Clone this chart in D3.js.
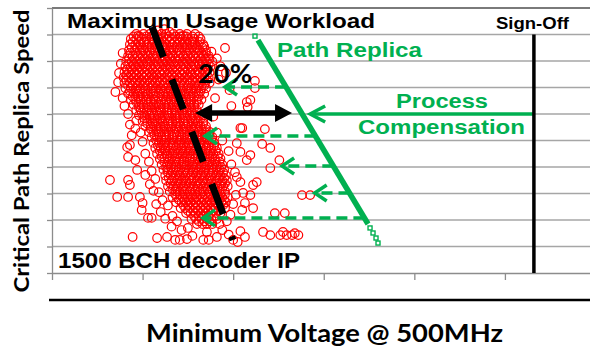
<!DOCTYPE html>
<html>
<head>
<meta charset="utf-8">
<script src="https://cdn.jsdelivr.net/npm/d3@7"></script>
<style>
  html, body { margin: 0; padding: 0; background: #ffffff; }
  svg { display: block; }
</style>
</head>
<body>
<svg id="chart" width="590" height="347"></svg>
<script>
// ---- axis ticks (no labels, just marks) ----
const xTicks = [0, 1, 2, 3, 4, 5, 6];
const yTicks = [0, 1, 2, 3, 4, 5, 6, 7, 8, 9, 10];

// ---- measured critical-path replica speed vs. minimum voltage (dense core, by row) ----
const cloudRows = [
  [9.02, [0.93,1.01,1.08,1.13,1.21,1.26,1.34,1.41,1.49,1.58]],
  [8.83, [0.87,0.93,0.99,1.04,1.10,1.17,1.21,1.27,1.32,1.39,1.44,1.50,1.57,1.64]],
  [8.62, [0.86,0.92,0.98,1.05,1.10,1.16,1.22,1.26,1.33,1.38,1.44,1.49,1.55,1.61,1.67]],
  [8.41, [0.85,0.91,0.97,1.01,1.08,1.13,1.19,1.25,1.30,1.34,1.41,1.47,1.52,1.58,1.63,1.70]],
  [8.19, [0.84,0.89,0.95,1.00,1.06,1.12,1.16,1.23,1.28,1.33,1.40,1.45,1.50,1.56,1.62,1.67,1.73]],
  [7.98, [0.82,0.88,0.94,0.99,1.05,1.09,1.16,1.22,1.27,1.32,1.38,1.44,1.49,1.54,1.61,1.66,1.71,1.77]],
  [7.79, [0.81,0.87,0.92,0.97,1.04,1.09,1.14,1.19,1.26,1.31,1.36,1.42,1.48,1.54,1.58,1.65,1.70,1.75]],
  [7.57, [0.80,0.85,0.91,0.96,1.02,1.08,1.14,1.19,1.24,1.29,1.36,1.41,1.46,1.53,1.58,1.63,1.69,1.74]],
  [7.38, [0.79,0.84,0.90,0.96,1.01,1.07,1.12,1.18,1.25,1.29,1.35,1.40,1.47,1.51,1.57,1.64,1.68,1.73]],
  [7.18, [0.80,0.86,0.92,0.97,1.02,1.08,1.14,1.19,1.24,1.31,1.36,1.41,1.46,1.52,1.58,1.63,1.69,1.74]],
  [6.97, [0.81,0.87,0.93,0.98,1.03,1.10,1.15,1.20,1.26,1.31,1.37,1.42,1.49,1.54,1.59,1.65,1.70]],
  [6.77, [0.84,0.90,0.95,1.00,1.06,1.12,1.18,1.23,1.28,1.34,1.39,1.46,1.51,1.56,1.62,1.68]],
  [6.55, [0.87,0.92,0.98,1.04,1.09,1.14,1.21,1.26,1.31,1.37,1.43,1.48,1.53,1.60,1.65]],
  [6.36, [0.90,0.96,1.01,1.06,1.12,1.18,1.24,1.29,1.34,1.40,1.45,1.51,1.57,1.62]],
  [6.14, [0.93,0.98,1.05,1.10,1.15,1.20,1.27,1.32,1.37,1.43,1.49,1.54,1.60]],
  [5.95, [0.96,1.02,1.08,1.13,1.18,1.24,1.29,1.36,1.41,1.46,1.52,1.57,1.63,1.68]],
  [5.73, [1.00,1.05,1.11,1.16,1.22,1.28,1.33,1.38,1.45,1.50,1.55,1.61,1.67]],
  [5.54, [1.03,1.09,1.15,1.20,1.25,1.32,1.37,1.42,1.48,1.54,1.59,1.64,1.70]],
  [5.32, [1.07,1.12,1.18,1.24,1.29,1.35,1.40,1.46,1.52,1.57,1.62,1.69,1.74]],
  [5.13, [1.10,1.16,1.21,1.26,1.33,1.38,1.43,1.49,1.55,1.60,1.66,1.71,1.77]],
  [4.91, [1.12,1.18,1.24,1.29,1.34,1.40,1.46,1.51,1.56,1.63,1.68,1.73,1.79]],
  [4.72, [1.14,1.20,1.25,1.31,1.37,1.43,1.48,1.53,1.59,1.64,1.70,1.76,1.82]],
  [4.50, [1.16,1.22,1.27,1.33,1.39,1.44,1.50,1.56,1.61,1.66,1.72,1.78,1.84]],
  [4.31, [1.19,1.24,1.30,1.36,1.41,1.46,1.52,1.58,1.64,1.69,1.74,1.80,1.86]],
  [4.09, [1.21,1.27,1.32,1.37,1.43,1.49,1.55,1.60,1.65,1.71,1.77,1.82,1.88]],
  [3.90, [1.23,1.28,1.34,1.40,1.46,1.51,1.56,1.62,1.68,1.73,1.78,1.85,1.90]],
  [3.68, [1.25,1.31,1.36,1.41,1.47,1.53,1.59,1.64,1.69,1.75,1.81,1.86,1.92]],
  [3.49, [1.26,1.32,1.38,1.43,1.48,1.54,1.60,1.66,1.71,1.76,1.82,1.88,1.93]],
  [3.27, [1.28,1.34,1.39,1.45,1.51,1.56,1.61,1.67,1.73,1.78,1.83,1.89,1.94]],
  [3.08, [1.30,1.36,1.41,1.46,1.52,1.58,1.63,1.68,1.74,1.80,1.85,1.91]],
  [2.86, [1.33,1.38,1.44,1.50,1.55,1.60,1.66,1.72,1.78,1.83,1.88,1.94]],
  [2.67, [1.37,1.43,1.48,1.53,1.59,1.65,1.71,1.76,1.81,1.87,1.92]],
  [2.45, [1.42,1.47,1.52,1.58,1.64,1.69,1.75,1.80,1.86,1.91]],
  [2.26, [1.48,1.53,1.58,1.64,1.70,1.75,1.81,1.86]],
  [2.04, [1.54,1.59,1.65,1.71,1.76,1.82]],
  [1.85, [1.60,1.66,1.71,1.77]]
];

// ---- second pass of the core, between the rows above ----
const cloudRowsMid = [
  [8.93, [0.90,0.97,1.04,1.10,1.16,1.23,1.29,1.36,1.42,1.48,1.55,1.62]],
  [8.72, [0.89,0.96,1.02,1.07,1.13,1.19,1.24,1.30,1.35,1.41,1.46,1.52,1.57,1.63]],
  [8.51, [0.88,0.94,0.99,1.05,1.10,1.16,1.22,1.27,1.32,1.38,1.44,1.49,1.55,1.60,1.66]],
  [8.30, [0.86,0.92,0.98,1.03,1.09,1.14,1.20,1.26,1.31,1.37,1.42,1.48,1.53,1.59,1.65,1.70]],
  [8.09, [0.85,0.91,0.97,1.02,1.08,1.13,1.19,1.25,1.30,1.36,1.41,1.47,1.52,1.58,1.64,1.69,1.74]],
  [7.88, [0.84,0.90,0.95,1.01,1.06,1.12,1.17,1.23,1.29,1.34,1.39,1.45,1.51,1.56,1.62,1.67,1.73]],
  [7.68, [0.83,0.88,0.94,0.99,1.05,1.11,1.16,1.22,1.27,1.33,1.38,1.44,1.50,1.55,1.61,1.66,1.72]],
  [7.47, [0.82,0.87,0.93,0.99,1.04,1.10,1.15,1.21,1.27,1.32,1.38,1.43,1.49,1.54,1.60,1.66,1.71]],
  [7.28, [0.82,0.88,0.94,0.99,1.05,1.11,1.16,1.22,1.27,1.33,1.38,1.44,1.50,1.55,1.61,1.66,1.71]],
  [7.07, [0.84,0.89,0.95,1.01,1.06,1.12,1.17,1.23,1.29,1.34,1.40,1.45,1.51,1.57,1.62,1.68]],
  [6.87, [0.86,0.92,0.97,1.03,1.09,1.14,1.20,1.25,1.31,1.36,1.42,1.48,1.53,1.59,1.64]],
  [6.66, [0.89,0.95,1.01,1.06,1.12,1.17,1.23,1.28,1.34,1.40,1.45,1.51,1.57,1.62]],
  [6.46, [0.93,0.98,1.04,1.09,1.15,1.20,1.26,1.32,1.37,1.43,1.48,1.54,1.60]],
  [6.25, [0.96,1.01,1.07,1.13,1.18,1.24,1.29,1.35,1.41,1.46,1.52,1.57]],
  [6.05, [0.99,1.04,1.10,1.16,1.21,1.27,1.32,1.38,1.44,1.49,1.55,1.61]],
  [5.84, [1.02,1.08,1.13,1.19,1.25,1.30,1.36,1.41,1.47,1.53,1.58,1.64]],
  [5.64, [1.05,1.11,1.17,1.22,1.28,1.33,1.39,1.45,1.50,1.56,1.61,1.67]],
  [5.43, [1.09,1.15,1.20,1.26,1.31,1.37,1.43,1.48,1.54,1.59,1.65,1.70]],
  [5.22, [1.13,1.18,1.24,1.29,1.35,1.41,1.46,1.52,1.57,1.63,1.69,1.74]],
  [5.02, [1.15,1.21,1.26,1.32,1.38,1.43,1.49,1.54,1.60,1.65,1.71,1.76]],
  [4.81, [1.17,1.23,1.28,1.34,1.40,1.45,1.51,1.56,1.62,1.67,1.73,1.79]],
  [4.61, [1.19,1.25,1.30,1.36,1.42,1.47,1.53,1.58,1.64,1.70,1.75,1.81]],
  [4.40, [1.21,1.27,1.33,1.38,1.44,1.49,1.55,1.61,1.66,1.72,1.77,1.83]],
  [4.20, [1.24,1.29,1.35,1.40,1.46,1.52,1.57,1.63,1.68,1.74,1.80,1.85]],
  [3.99, [1.26,1.31,1.37,1.43,1.48,1.54,1.59,1.65,1.70,1.76,1.82,1.87]],
  [3.79, [1.28,1.33,1.39,1.45,1.50,1.56,1.61,1.67,1.73,1.78,1.84,1.89]],
  [3.58, [1.29,1.35,1.41,1.46,1.52,1.57,1.63,1.68,1.74,1.80,1.85,1.90]],
  [3.38, [1.31,1.37,1.42,1.48,1.53,1.59,1.64,1.70,1.76,1.81,1.87,1.91]],
  [3.17, [1.33,1.38,1.44,1.49,1.55,1.61,1.66,1.72,1.77,1.83,1.88]],
  [2.97, [1.36,1.41,1.47,1.53,1.58,1.64,1.69,1.75,1.80,1.86,1.91]],
  [2.76, [1.40,1.46,1.51,1.57,1.62,1.68,1.74,1.79,1.85,1.90]],
  [2.56, [1.45,1.50,1.56,1.61,1.67,1.72,1.78,1.83,1.89]],
  [2.35, [1.50,1.56,1.61,1.67,1.72,1.78,1.84]],
  [2.15, [1.57,1.62,1.68,1.73,1.79]],
  [1.95, [1.62,1.68,1.74]]
];

// ---- scattered dies around the dense core [voltage, speed] ----
const cloudOutliers = [
  [1.17,9.15],[1.24,9.20],[1.30,9.10],[0.95,8.95],[1.45,8.95],[1.55,8.75],[1.68,8.55],[1.76,8.35],
  [1.82,8.10],[1.91,8.49],[0.78,8.30],[0.76,7.90],[0.74,7.55],[0.73,7.20],[0.70,6.83],[0.78,6.60],
  [0.80,6.30],[0.84,6.00],[0.86,5.60],[0.88,5.20],[0.92,5.45],[0.83,4.75],[0.84,4.38],[0.92,4.26],
  [0.86,4.83],[0.94,3.89],[1.03,3.70],[0.64,3.51],[0.84,3.51],[0.86,3.32],[0.72,2.87],[0.84,2.87],
  [0.97,2.87],[1.00,2.64],[0.99,2.38],[1.06,2.08],[1.10,2.08],[1.12,3.10],[1.08,3.35],[1.15,2.60],
  [1.20,2.30],[1.25,2.05],[1.33,2.15],[1.38,1.95],[0.89,1.36],[1.16,1.32],[1.27,1.36],[1.36,1.25],
  [1.41,1.25],[1.49,1.28],[1.55,1.40],[1.67,1.25],[1.73,1.25],[1.71,1.55],[1.82,1.36],[1.88,1.62],
  [1.95,1.45],[2.00,1.25],[2.05,1.17],[2.08,1.58],[2.13,1.36],[2.33,1.55],[2.41,1.43],[2.52,1.43],
  [2.55,1.55],[2.59,1.43],[2.65,1.43],[2.68,1.50],[2.72,1.43],[2.76,2.94],[2.85,2.94],[2.57,2.26],
  [2.46,2.26],[2.22,2.45],[2.13,2.64],[2.10,2.38],[2.11,3.02],[2.08,3.43],[2.22,3.32],[2.26,3.43],
  [2.19,2.94],[2.04,3.62],[2.15,4.26],[2.08,4.57],[2.32,4.87],[2.41,4.72],[2.51,4.26],[2.41,3.96],
  [2.10,5.47],[2.35,5.43],[2.19,6.53],[2.16,6.26],[2.24,6.98],[2.24,7.25],[1.98,6.30],[1.96,6.90],
  [1.92,7.55],[1.86,7.80],[1.84,7.30],[1.80,6.60],[1.78,5.90],[1.82,5.30],[1.88,5.00],[1.95,4.60],
  [1.98,4.10],[2.02,3.80],[2.03,2.95],[2.00,2.60],[1.97,2.20],[1.93,1.95],[1.85,1.85],[1.50,1.70],
  [1.43,1.62],[1.32,1.75],[1.28,2.55],[1.22,2.75],[1.18,3.05],[1.14,3.55],[1.10,3.85],[1.07,4.20],
  [1.03,4.50],[1.00,4.95],[0.98,5.30],[0.93,5.75],[2.04,4.90],[2.15,6.45],[2.19,4.45],[2.08,5.47]
];

// ---- path replica trend and its markers ----
const replicaLine = [[2.274, 8.79], [3.489, 1.85]];
const replicaMarkers = [[2.241, 8.94], [3.511, 1.70], [3.544, 1.51], [3.577, 1.32], [3.599, 1.13]];

// ---- maximum-usage workload boundary ----
const workloadLine = [[1.104, 9.28], [1.998, 1.245]];

// ---- compensation arrows: speed level and arrow tip voltage ----
const compLevels = [7.02, 5.17, 4.04, 3.02, 2.08];
const compTips = [1.91, 1.69, 2.54, 2.90, 1.667];

// ---- process compensation arrow (from sign-off to replica) ----
const processLevel = 6.0;
const processTip = 2.85;

// ---- 20% margin double arrow ----
const marginLevel = 6.04;
const marginEnds = [1.58, 2.65];

// ---- sign-off voltage ----
const signOff = 5.32;
const signOffTop = 9.0;

const GREEN = "#00b050";
const RED = "#ff0000";

const svg = d3.select("#chart");
const W = 590;

const x = d3.scaleLinear().domain([0, 6]).range([52, 595.5]);
const y = d3.scaleLinear().domain([0, 10]).range([273, 8]);

// horizontal gridlines
svg.append("g").selectAll("line")
  .data(yTicks.filter(d => d > 0))
  .join("line")
  .attr("x1", x(0)).attr("x2", W)
  .attr("y1", d => y(d)).attr("y2", d => y(d))
  .attr("stroke", d => d === 10 ? "#7a7a7a" : "#a6a6a6")
  .attr("stroke-width", d => d === 10 ? 2 : 1.3);

// y axis with short outside ticks
const gy = svg.append("g")
  .attr("transform", `translate(${x(0)},0)`)
  .call(d3.axisLeft(y).tickValues(yTicks).tickSize(5).tickSizeOuter(0).tickFormat(""));
gy.select(".domain").attr("stroke", "#8c8c8c").attr("stroke-width", 1.3);
gy.selectAll(".tick line").attr("stroke", "#8c8c8c").attr("stroke-width", 1.3);

// x axis with downward ticks
const gx = svg.append("g")
  .attr("transform", `translate(0,${y(0)})`)
  .call(d3.axisBottom(x).tickValues(xTicks).tickSize(7).tickSizeOuter(0).tickFormat(""));
gx.select(".domain").attr("stroke", "#8c8c8c").attr("stroke-width", 1.3);
gx.selectAll(".tick line").attr("stroke", "#8c8c8c").attr("stroke-width", 1.3);

// scatter of measured dies
const rowPoints = rows => rows.flatMap(([s, xs]) => xs.map(v => [v, s]));
const cloudPoints = rowPoints(cloudRows).concat(rowPoints(cloudRowsMid), cloudOutliers);
svg.append("g").selectAll("circle")
  .data(cloudPoints)
  .join("circle")
  .attr("cx", d => x(d[0]))
  .attr("cy", d => y(d[1]))
  .attr("r", 4.3)
  .attr("fill", "none")
  .attr("stroke", RED)
  .attr("stroke-width", 1.2);

const line = d3.line().x(d => x(d[0])).y(d => y(d[1]));

// workload boundary (thick black dashes)
svg.append("path")
  .attr("d", line(workloadLine))
  .attr("fill", "none")
  .attr("stroke", "#000")
  .attr("stroke-width", 7)
  .attr("stroke-dasharray", "32,24");

// path replica trend
svg.append("path")
  .attr("d", line(replicaLine))
  .attr("fill", "none")
  .attr("stroke", GREEN)
  .attr("stroke-width", 5.5);
svg.append("g").selectAll("rect")
  .data(replicaMarkers)
  .join("rect")
  .attr("x", d => x(d[0]) - 2)
  .attr("y", d => y(d[1]) - 2)
  .attr("width", 4).attr("height", 4)
  .attr("fill", "none")
  .attr("stroke", GREEN)
  .attr("stroke-width", 1.4);

function replicaAt(s) {
  const [[x1, y1], [x2, y2]] = replicaLine;
  return x1 + (s - y1) * (x2 - x1) / (y2 - y1);
}

function chevron(px, py, dx, dy) {
  return `M${px + dx},${py - dy}L${px},${py}L${px + dx},${py + dy}`;
}

// dashed compensation arrows
const comp = svg.append("g");
compLevels.forEach((s, i) => {
  const py = y(s);
  comp.append("line")
    .attr("x1", x(replicaAt(s))).attr("x2", x(compTips[i]) + 2)
    .attr("y1", py).attr("y2", py)
    .attr("stroke", GREEN).attr("stroke-width", 3.5)
    .attr("stroke-dasharray", "11,6");
  comp.append("path")
    .attr("d", chevron(x(compTips[i]), py, 12, 8))
    .attr("fill", "none").attr("stroke", GREEN).attr("stroke-width", 3.5);
});

// process compensation arrow
const ppy = y(processLevel);
svg.append("line")
  .attr("x1", x(signOff)).attr("x2", x(processTip) + 2)
  .attr("y1", ppy).attr("y2", ppy)
  .attr("stroke", GREEN).attr("stroke-width", 3.5);
svg.append("path")
  .attr("d", chevron(x(processTip), ppy, 15, 8))
  .attr("fill", "none").attr("stroke", GREEN).attr("stroke-width", 3.5);

// 20% margin double arrow
const my = y(marginLevel);
const ml = x(marginEnds[0]), mr = x(marginEnds[1]);
svg.append("line")
  .attr("x1", ml + 14).attr("x2", mr - 14)
  .attr("y1", my).attr("y2", my)
  .attr("stroke", "#000").attr("stroke-width", 5.5);
svg.append("path")
  .attr("d", `M${ml},${my}L${ml + 17},${my - 9}L${ml + 17},${my + 9}Z M${mr},${my}L${mr - 17},${my - 9}L${mr - 17},${my + 9}Z`)
  .attr("fill", "#000");

// sign-off voltage
svg.append("line")
  .attr("x1", x(signOff)).attr("x2", x(signOff))
  .attr("y1", y(signOffTop)).attr("y2", y(0))
  .attr("stroke", "#000").attr("stroke-width", 3.5);

// separator rule under the plot
svg.append("line")
  .attr("x1", 49).attr("x2", W)
  .attr("y1", 300).attr("y2", 300)
  .attr("stroke", "#000").attr("stroke-width", 2.5);

// ---- annotation text ----
const ARIAL = "'Liberation Sans', Arial, sans-serif";
const CAL = "Lato, 'Open Sans', sans-serif";

function label(txt, px, py, size, len, color, family) {
  return svg.append("text")
    .attr("x", px).attr("y", py)
    .attr("font-family", family)
    .attr("font-weight", "bold")
    .attr("font-size", size)
    .attr("fill", color)
    .attr("textLength", len)
    .attr("lengthAdjust", "spacingAndGlyphs")
    .text(txt);
}

label("Maximum Usage Workload", 67, 27.5, 21, 308, "#000", ARIAL);
label("Sign-Off", 496, 29, 17, 73, "#000", ARIAL);
label("Path Replica", 277, 56.5, 20, 145, GREEN, ARIAL);
label("Process", 396, 108, 20, 92, GREEN, ARIAL);
label("Compensation", 358, 134, 20, 167, GREEN, ARIAL);
label("20%", 198, 83, 26, 54, "#000", CAL);
label("1500 BCH decoder IP", 58, 268, 22, 242, "#000", ARIAL);

label("Minimum Voltage @ 500MHz", 146, 342, 24, 357, "#000", CAL);

svg.append("text")
  .attr("transform", "translate(29,151) rotate(-90)")
  .attr("text-anchor", "middle")
  .attr("font-family", CAL)
  .attr("font-weight", "bold")
  .attr("font-size", 21)
  .attr("fill", "#000")
  .attr("textLength", 283)
  .attr("lengthAdjust", "spacingAndGlyphs")
  .text("Critical Path Replica Speed");
</script>
</body>
</html>
